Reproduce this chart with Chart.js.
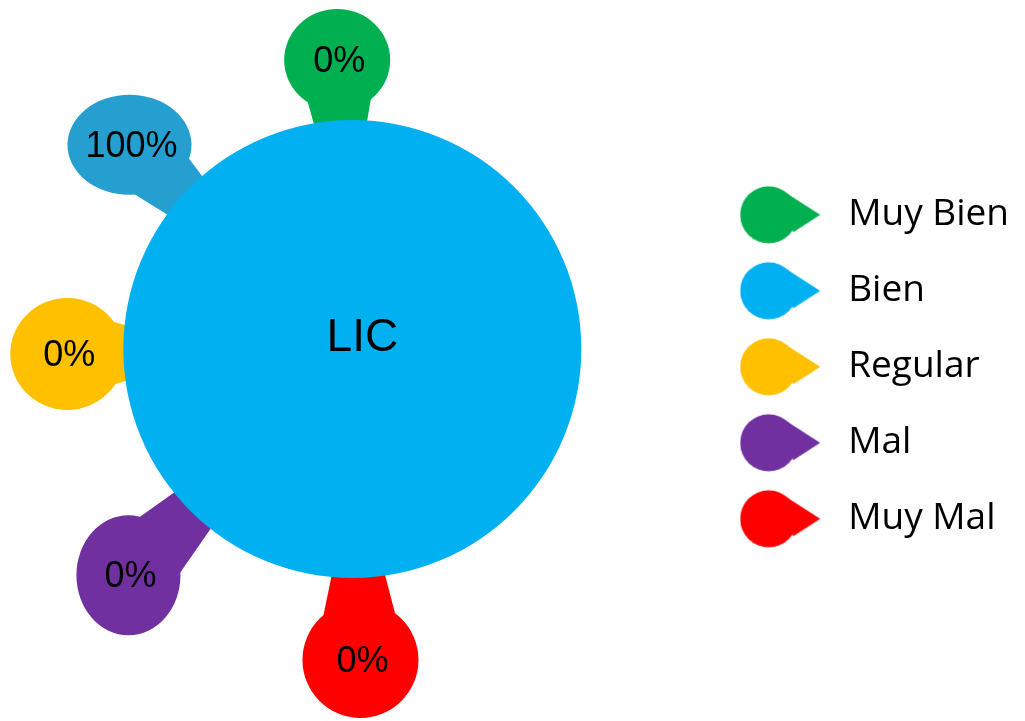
<!DOCTYPE html>
<html>
<head>
<meta charset="utf-8">
<script src="https://cdn.jsdelivr.net/npm/chart.js@4.4.0/dist/chart.umd.min.js"></script>
<style>
  html, body { margin: 0; padding: 0; background: #fff; }
  canvas { display: block; }
</style>
</head>
<body>
<canvas id="chart" width="1025" height="721"></canvas>
<script>
// ============ Data ============
const categories = ['Muy Bien', 'Bien', 'Regular', 'Mal', 'Muy Mal'];
const shares = [0, 100, 0, 0, 0];
const chartTitle = 'LIC';

// ============ Styles ============
const sliceColors = ['#00B050', '#00B0F0', '#FFC000', '#7030A0', '#FF0000'];
const calloutColors = ['#00B050', '#249FD0', '#FFC000', '#7030A0', '#FF0000'];

// callout bubbles: angle (deg, clockwise from 3 o'clock) and distance in pie radii
const calloutSpots = [
  {angle: -93,    dist: 1.264, rx: 53, ry: 51},
  {angle: -137.5, dist: 1.32,  rx: 62, ry: 50},
  {angle: 179,    dist: 1.245, rx: 57, ry: 56},
  {angle: 134.7,  dist: 1.39,  rx: 52, ry: 60},
  {angle: 88.5,   dist: 1.358, rx: 58, ry: 58}
];

// teardrop marker for the legend
function makeMarker(color) {
  const c = document.createElement('canvas');
  c.width = 90;
  c.height = 60;
  const g = c.getContext('2d');
  g.fillStyle = color;
  g.beginPath();
  g.arc(29, 30, 28.5, 0, Math.PI * 2);
  g.fill();
  g.beginPath();
  g.moveTo(44, 6.5);
  g.lineTo(80.5, 30);
  g.lineTo(53.5, 47.5);
  g.closePath();
  g.fill();
  return c;
}
const markers = sliceColors.map(makeMarker);

// ============ Callouts + centre title ============
const calloutPlugin = {
  id: 'callouts',
  beforeDatasetsDraw(chart) {
    const arc = chart.getDatasetMeta(0).data[0];
    const cx = arc.x, cy = arc.y, R = arc.outerRadius;
    const ctx = chart.ctx;
    const total = shares.reduce((a, b) => a + b, 0);

    ctx.save();
    calloutSpots.forEach((s, i) => {
      const a = s.angle * Math.PI / 180;
      const bx = cx + Math.cos(a) * R * s.dist;
      const by = cy + Math.sin(a) * R * s.dist;
      const tx = cx + Math.cos(a) * R * 0.9;
      const ty = cy + Math.sin(a) * R * 0.9;
      const px = -Math.sin(a), py = Math.cos(a);
      const w1 = Math.min(s.rx, s.ry) * 0.8, w2 = 22;

      ctx.fillStyle = calloutColors[i];
      ctx.beginPath();
      ctx.moveTo(bx + px * w1, by + py * w1);
      ctx.lineTo(tx + px * w2, ty + py * w2);
      ctx.lineTo(tx - px * w2, ty - py * w2);
      ctx.lineTo(bx - px * w1, by - py * w1);
      ctx.closePath();
      ctx.fill();
      ctx.beginPath();
      ctx.ellipse(bx, by, s.rx, s.ry, 0, 0, Math.PI * 2);
      ctx.fill();

      const pct = total ? Math.round(shares[i] / total * 100) : 0;
      ctx.fillStyle = '#000';
      ctx.font = '36px "Liberation Sans", Arial, sans-serif';
      ctx.textAlign = 'center';
      ctx.textBaseline = 'middle';
      ctx.fillText(pct + '%', bx + 2, by + 2);
    });
    ctx.restore();
  },
  afterDatasetsDraw(chart) {
    const arc = chart.getDatasetMeta(0).data[0];
    const ctx = chart.ctx;
    ctx.save();
    ctx.fillStyle = '#000';
    ctx.font = '46px "Liberation Sans", Arial, sans-serif';
    ctx.textAlign = 'center';
    ctx.textBaseline = 'middle';
    ctx.fillText(chartTitle, arc.x + 10, arc.y - 11);
    ctx.restore();
  }
};

// ============ Chart ============
const chart = new Chart(document.getElementById('chart'), {
  type: 'pie',
  data: {
    labels: categories,
    datasets: [{
      data: shares,
      backgroundColor: sliceColors,
      borderWidth: 0
    }]
  },
  options: {
    responsive: false,
    animation: false,
    layout: {
      padding: {top: 120, bottom: 143, left: 4, right: 6}
    },
    plugins: {
      tooltip: {enabled: false},
      legend: {
        position: 'right',
        title: {
          display: true,
          text: ' ',
          font: {size: 28},
          padding: 1
        },
        labels: {
          usePointStyle: true,
          pointStyleWidth: 90,
          padding: 39,
          color: '#000',
          font: {family: '"Open Sans", sans-serif', size: 37},
          generateLabels(chart) {
            const items = Chart.overrides.doughnut.plugins.legend.labels.generateLabels(chart);
            return items.map((item, i) => Object.assign(item, {pointStyle: markers[i], hidden: false}));
          }
        }
      }
    }
  },
  plugins: [calloutPlugin]
});
</script>
</body>
</html>
